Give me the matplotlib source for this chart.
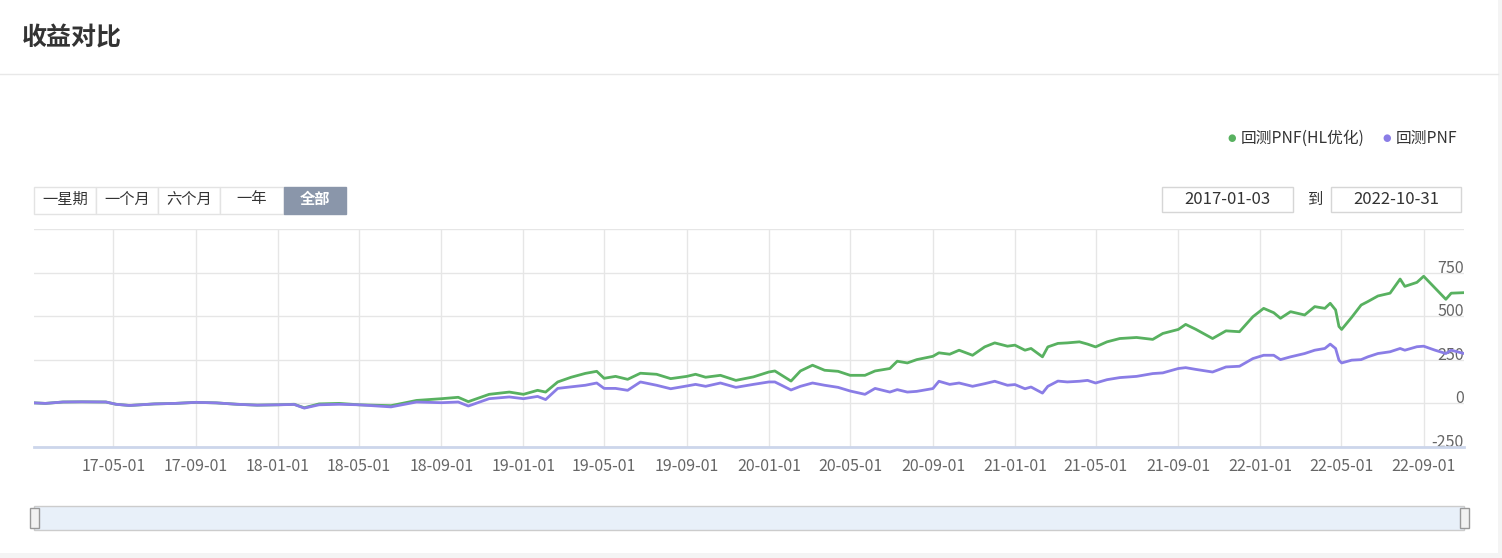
import pandas as pd
import matplotlib
matplotlib.use('Agg')
import matplotlib.pyplot as plt
import matplotlib.dates as mdates
from matplotlib.patches import Rectangle
from matplotlib.ticker import FuncFormatter

plt.rcParams['font.family'] = ['Noto Sans CJK SC', 'DejaVu Sans']

# ---------------------------------------------------------------- data
dates = [
	'2017-01-03', '2017-01-20', '2017-02-15', '2017-03-15', '2017-04-20', '2017-05-05',
	'2017-05-25', '2017-07-01', '2017-08-01', '2017-09-01', '2017-10-01', '2017-11-01',
	'2017-12-01', '2018-01-01', '2018-01-25', '2018-02-09', '2018-03-03', '2018-04-02',
	'2018-05-01', '2018-06-18', '2018-07-26', '2018-09-01', '2018-09-26', '2018-10-11',
	'2018-11-11', '2018-12-11', '2019-01-01', '2019-01-22', '2019-02-03', '2019-02-21',
	'2019-03-13', '2019-04-03', '2019-04-20', '2019-05-01', '2019-05-18', '2019-06-05',
	'2019-06-24', '2019-07-18', '2019-08-08', '2019-09-01', '2019-09-14', '2019-09-29',
	'2019-10-21', '2019-11-13', '2019-12-09', '2020-01-01', '2020-01-10', '2020-02-03',
	'2020-02-17', '2020-03-06', '2020-03-24', '2020-04-13', '2020-05-01', '2020-05-23',
	'2020-06-07', '2020-06-29', '2020-07-10', '2020-07-25', '2020-08-08', '2020-09-01',
	'2020-09-10', '2020-09-26', '2020-10-10', '2020-10-30', '2020-11-17', '2020-12-02',
	'2020-12-21', '2021-01-01', '2021-01-16', '2021-01-25', '2021-02-11', '2021-02-19',
	'2021-03-06', '2021-03-20', '2021-04-07', '2021-04-19', '2021-05-01', '2021-05-18',
	'2021-06-06', '2021-07-01', '2021-07-25', '2021-08-09', '2021-09-01', '2021-09-12',
	'2021-09-27', '2021-10-22', '2021-11-11', '2021-12-01', '2021-12-21', '2022-01-06',
	'2022-01-21', '2022-01-31', '2022-02-15', '2022-03-08', '2022-03-23', '2022-04-07',
	'2022-04-15', '2022-04-23', '2022-04-28', '2022-05-02', '2022-05-17', '2022-05-31',
	'2022-06-10', '2022-06-25', '2022-07-13', '2022-07-28', '2022-08-04', '2022-08-22',
	'2022-09-01', '2022-09-18', '2022-10-04', '2022-10-12', '2022-10-31',
]

pnf_hl = [  # 回测PNF(HL优化)
	3, 0, 8, 9, 8, -5,
	-12, -3, 0, 6, 3, -5,
	-10, -8, -5, -25, -3, 0,
	-8, -13, 17, 27, 35, 10,
	52, 65, 52, 75, 65, 123,
	150, 172, 184, 144, 155, 138,
	173, 167, 142, 155, 167, 150,
	161, 132, 152, 180, 186, 128,
	186, 219, 190, 184, 161, 161,
	186, 200, 242, 232, 251, 270,
	290, 282, 305, 276, 324, 347,
	328, 334, 305, 315, 267, 324,
	344, 347, 353, 340, 324, 353,
	372, 378, 367, 401, 424, 453,
	425, 372, 416, 411, 497, 545,
	520, 488, 526, 507, 555, 545,
	574, 536, 441, 424, 494, 564,
	584, 616, 632, 713, 671, 694,
	729, 661, 597, 632, 635,
]

pnf = [  # 回测PNF
	3, 0, 8, 9, 8, -5,
	-12, -3, 0, 6, 3, -5,
	-10, -8, -6, -27, -8, -5,
	-8, -20, 8, 4, 8, -15,
	27, 37, 27, 40, 22, 86,
	95, 104, 117, 86, 86, 75,
	123, 104, 84, 100, 109, 98,
	117, 92, 109, 123, 123, 77,
	98, 117, 104, 92, 71, 52,
	86, 65, 79, 65, 69, 85,
	127, 109, 117, 98, 113, 127,
	104, 108, 84, 94, 59, 98,
	128, 123, 127, 132, 117, 136,
	148, 155, 171, 175, 200, 205,
	195, 180, 209, 213, 257, 276,
	276, 251, 267, 286, 305, 315,
	340, 315, 248, 232, 248, 251,
	267, 286, 296, 315, 305, 325,
	328, 305, 286, 305, 286,
]

series_names = ['回测PNF(HL优化)', '回测PNF']
series_colors = ['#58b160', '#8a7de6']
range_buttons = ['一星期', '一个月', '六个月', '一年', '全部']
start_date = '2017-01-03'
end_date = '2022-10-31'
tick_dates = ['2017-05-01', '2017-09-01', '2018-01-01', '2018-05-01', '2018-09-01',
			  '2019-01-01', '2019-05-01', '2019-09-01', '2020-01-01', '2020-05-01',
			  '2020-09-01', '2021-01-01', '2021-05-01', '2021-09-01', '2022-01-01',
			  '2022-05-01', '2022-09-01']

# ---------------------------------------------------------------- layout helpers
W, H = 1502, 558
fig = plt.figure(figsize=(W / 100, H / 100), dpi=100)
fig.patch.set_facecolor('white')

def fx(x):
	return x / W

def fy(y):
	return 1 - y / H

def box(x0, y0, x1, y1, fc, ec, lw=1.0, z=1):
	fig.patches.append(Rectangle((fx(x0), fy(y1)), fx(x1) - fx(x0), fy(y0) - fy(y1),
								 transform=fig.transFigure, facecolor=fc, edgecolor=ec,
								 linewidth=lw, zorder=z))

# card border bits
box(0, 553, W, H, '#f4f4f4', 'none')
box(1498, 0, W, H, '#f4f4f4', 'none')
fig.add_artist(plt.Line2D([0, fx(1498)], [fy(74), fy(74)], color='#e8e8e8', lw=1,
						  transform=fig.transFigure))

# title
fig.text(fx(22), fy(38), '收益对比', fontsize=18, fontweight='bold', color='#333333',
		 ha='left', va='center')

# legend
lx = [1232, 1387]
for i, name in enumerate(series_names):
	fig.text(fx(lx[i]), fy(138), '●', color=series_colors[i], fontsize=7,
			 ha='center', va='center', family=['DejaVu Sans'])
	fig.text(fx(lx[i] + 9), fy(138), name, color='#333333', fontsize=11.3,
			 ha='left', va='center')

# range buttons
bx = [34, 96, 158, 220, 284, 346]
for i, lab in enumerate(range_buttons):
	active = lab == '全部'
	box(bx[i], 187, bx[i + 1], 214, '#8a96aa' if active else 'white',
		'#8a96aa' if active else '#e3e3e3')
	fig.text(fx((bx[i] + bx[i + 1]) / 2), fy(199), lab,
			 color='white' if active else '#333333', fontsize=11,
			 fontweight='bold' if active else 'normal', ha='center', va='center')

# date inputs
box(1162, 187, 1293, 212, 'white', '#d6d6d6')
fig.text(fx(1227), fy(199), start_date, color='#333333', fontsize=12, ha='center', va='center')
fig.text(fx(1315), fy(199), '到', color='#333333', fontsize=11, ha='center', va='center')
box(1331, 187, 1461, 212, 'white', '#d6d6d6')
fig.text(fx(1396), fy(199), end_date, color='#333333', fontsize=12, ha='center', va='center')

# ---------------------------------------------------------------- main chart
ax = fig.add_axes([fx(34), fy(447), fx(1464) - fx(34), fy(229) - fy(447)])
x = pd.to_datetime(dates)
ax.plot(x, pnf_hl, color=series_colors[0], lw=2.0, zorder=3)
ax.plot(x, pnf, color=series_colors[1], lw=2.0, zorder=4)

ax.set_xlim(pd.Timestamp(start_date), pd.Timestamp(end_date))
ax.set_ylim(-250, 1000)
ax.set_yticks([-250, 0, 250, 500, 750, 1000])
ax.yaxis.tick_right()
ax.yaxis.set_major_formatter(FuncFormatter(lambda v, p: '' if v >= 1000 else f'{v:.0f}'))
ax.tick_params(axis='y', length=0, pad=0, labelsize=11.5, labelcolor='#666666')
for lbl in ax.get_yticklabels():
	lbl.set_ha('right')
	lbl.set_va('baseline')

ax.set_xticks(pd.to_datetime(tick_dates))
ax.xaxis.set_major_formatter(mdates.DateFormatter('%y-%m-%d'))
ax.tick_params(axis='x', length=0, pad=8, labelsize=11.5, labelcolor='#666666')

ax.grid(True, color='#e6e6e6', lw=1)
ax.set_axisbelow(True)
for s in ['top', 'left', 'right']:
	ax.spines[s].set_visible(False)
ax.spines['bottom'].set_color('#ccd6eb')
ax.spines['bottom'].set_linewidth(2)

# ---------------------------------------------------------------- navigator
box(34, 506, 1464, 530, '#e8f0f9', '#cccccc')
for hx in [34, 1464]:
	box(hx - 4.5, 508, hx + 4.5, 528, '#f2f2f2', '#999999', z=2)
	for dx in [-1.2, 1.2]:
		fig.add_artist(plt.Line2D([fx(hx + dx), fx(hx + dx)], [fy(512), fy(524)],
								  color='#999999', lw=0.8, transform=fig.transFigure))

plt.savefig('out.png', dpi=100)
plt.close()
